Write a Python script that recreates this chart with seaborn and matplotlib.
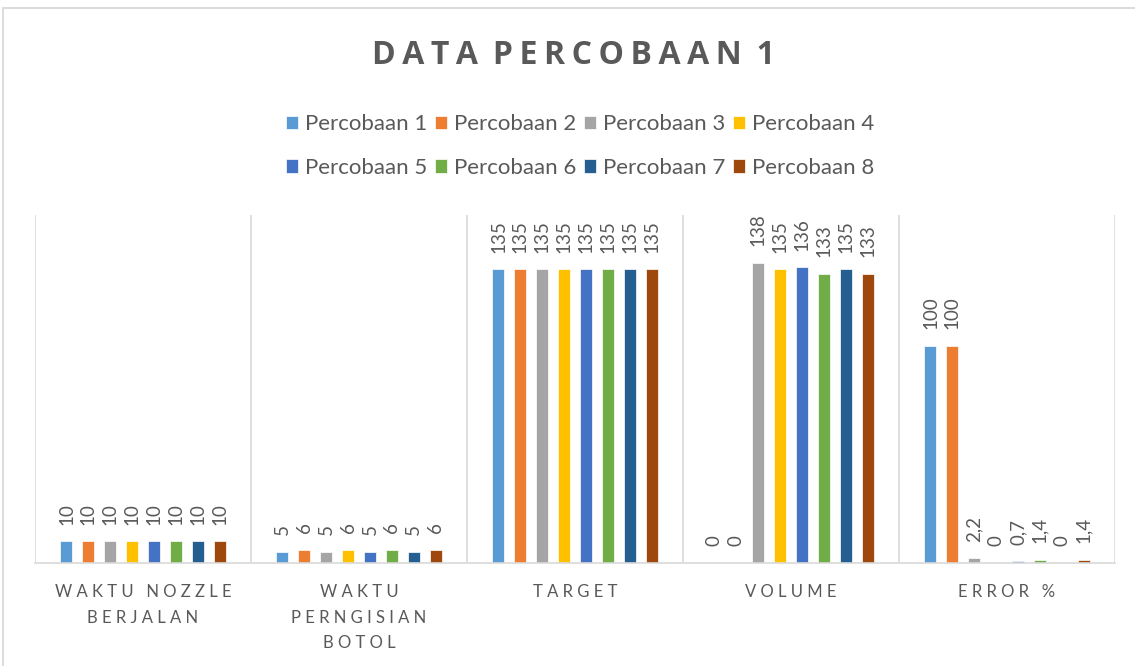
import matplotlib
matplotlib.use("Agg")
import numpy as np
import pandas as pd
import matplotlib.pyplot as plt
import seaborn as sns
from matplotlib.patches import Rectangle

# Categories on the x axis (spaced-out capitals, wrapped over lines)
categories = ["WAKTU NOZZLE\nBERJALAN", "WAKTU\nPERNGISIAN\nBOTOL", "TARGET", "VOLUME", "ERROR %"]

series_names = ["Percobaan 1", "Percobaan 2", "Percobaan 3", "Percobaan 4",
                "Percobaan 5", "Percobaan 6", "Percobaan 7", "Percobaan 8"]

percobaan_1 = [10, 5, 135, 0, 100]
percobaan_2 = [10, 6, 135, 0, 100]
percobaan_3 = [10, 5, 135, 138, 2.2]
percobaan_4 = [10, 6, 135, 135, 0]
percobaan_5 = [10, 5, 135, 136, 0.7]
percobaan_6 = [10, 6, 135, 133, 1.4]
percobaan_7 = [10, 5, 135, 135, 0]
percobaan_8 = [10, 6, 135, 133, 1.4]

all_series = [percobaan_1, percobaan_2, percobaan_3, percobaan_4,
              percobaan_5, percobaan_6, percobaan_7, percobaan_8]

colors = ["#5B9BD5", "#ED7D31", "#A5A5A5", "#FFC000",
          "#4472C4", "#70AD47", "#255E91", "#9E480E"]

TEXT = "#595959"
LINE = "#D9D9D9"

sns.set_theme(style="white")
plt.rcParams["font.family"] = ["Lato", "DejaVu Sans"]

rows = []
for name, vals in zip(series_names, all_series):
    for cat, v in zip(categories, vals):
        rows.append({"kategori": cat, "seri": name, "nilai": v})
df = pd.DataFrame(rows)

W, H = 1135, 666
fig = plt.figure(figsize=(W / 100, H / 100), dpi=100)
fig.patch.set_facecolor("white")

# chart border (right and bottom edges run past the canvas)
fig.patches.append(Rectangle((3 / W, -20 / H), 1160 / W, 678 / H, transform=fig.transFigure,
                             fill=False, edgecolor=LINE, linewidth=1.3))

ax = fig.add_axes([35 / W, 103 / H, 1080 / W, 348 / H])
sns.barplot(data=df, x="kategori", y="nilai", hue="seri", order=categories,
            hue_order=series_names, palette=colors, saturation=1,
            width=0.81, gap=0.45, dodge=True, edgecolor="white", linewidth=0.5,
            ax=ax, legend=True)


def fmt(v):
    if float(v).is_integer():
        return str(int(v))
    return f"{v}".replace(".", ",")


for container, vals in zip(ax.containers, all_series):
    ax.bar_label(container, labels=[fmt(v) for v in vals], rotation=90,
                 padding=12, color=TEXT, fontsize=13.5)

ax.set_ylim(0, 160)
ax.set_xlim(-0.5, len(categories) - 0.5)
ax.set_yticks([])
ax.set_xlabel("")
ax.set_ylabel("")

spaced = ["\n".join("   ".join(" ".join(w) for w in line.split(" ")) for line in c.split("\n"))
          for c in categories]
ax.set_xticks(range(len(categories)))
ax.set_xticklabels(spaced, fontsize=12, color=TEXT, linespacing=1.75)
ax.tick_params(axis="x", length=0, pad=15)

ax.set_xticks(np.arange(-0.5, len(categories)), minor=True)
ax.tick_params(axis="x", which="minor", length=0)
ax.grid(which="minor", axis="x", color=LINE, linewidth=1.2)
ax.grid(which="major", visible=False)
for s in ["left", "right", "top"]:
    ax.spines[s].set_visible(False)
ax.spines["bottom"].set_color(LINE)
ax.spines["bottom"].set_linewidth(1.2)

handles, labels = ax.get_legend_handles_labels()
ax.get_legend().remove()
order = [0, 4, 1, 5, 2, 6, 3, 7]
fig.legend([handles[i] for i in order], [labels[i] for i in order], ncol=4,
           loc="center", bbox_to_anchor=(580 / W, 1 - 146 / H), frameon=False,
           fontsize=16, labelcolor=TEXT, handlelength=0.55, handleheight=0.55,
           handletextpad=0.3, columnspacing=0.35, labelspacing=1.05)

# tracked-out title: hair spaces between letters
title = "DATA PERCOBAAN 1"
track = "\u200a\u200a"
title_spaced = "\u200a \u200a".join(track.join(w) for w in title.split(" "))
fig.text(573 / W, 1 - 56 / H, title_spaced, ha="center", va="center",
         fontsize=23, fontweight="bold", color=TEXT,
         family=["Open Sans", "DejaVu Sans"])

fig.savefig("out.png", dpi=100)
